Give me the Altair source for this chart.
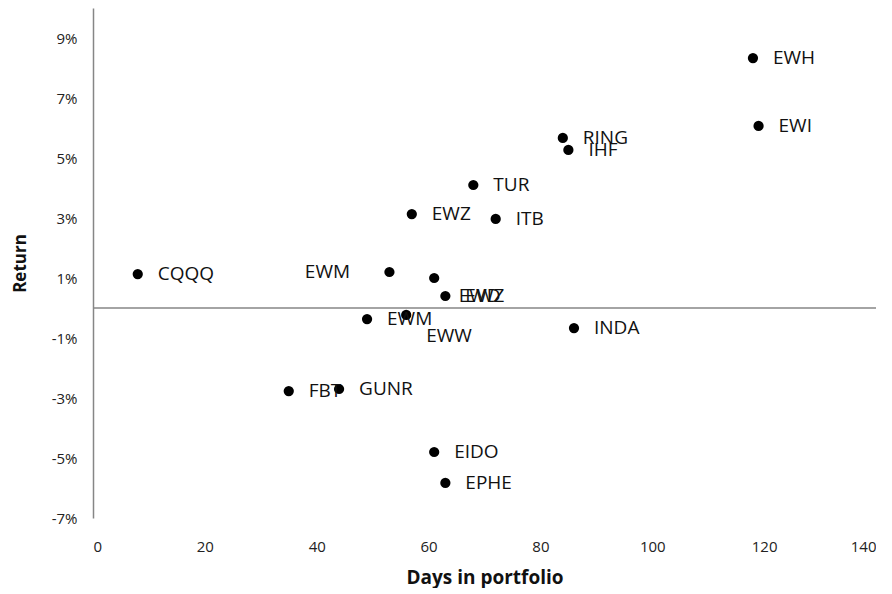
import altair as alt
import pandas as pd

tickers = ["EWH", "EWI", "RING", "IHF", "TUR", "EWZ", "ITB", "CQQQ", "EWM",
           "EWD", "EWZ", "EWM", "EWW", "INDA", "FBT", "GUNR", "EIDO", "EPHE"]
days = [118, 119, 84, 85, 68, 57, 72, 8, 53,
        61, 63, 49, 56, 86, 35, 44, 61, 63]
returns = [0.0833, 0.0607, 0.0567, 0.0527, 0.041, 0.0313, 0.0297, 0.0113, 0.012,
           0.010, 0.004, -0.0037, -0.0023, -0.0067, -0.0277, -0.027, -0.048, -0.0583]
# where each data label sits (data units); most sit next to their own point
label_days = [118, 119, 84, 85, 68, 57, 72, 8, 34.3,
              61.8, 63, 49, 56, 86, 35, 44, 61, 63]
label_returns = [0.0833, 0.0607, 0.0567, 0.0527, 0.041, 0.0313, 0.0297, 0.0113, 0.012,
                 0.004, 0.004, -0.0037, -0.0093, -0.0067, -0.0277, -0.027, -0.048, -0.0583]

x_ticks = [0, 20, 40, 60, 80, 100, 120, 140]
y_ticks = [-0.07, -0.05, -0.03, -0.01, 0.01, 0.03, 0.05, 0.07, 0.09]

df = pd.DataFrame({"ticker": tickers, "days": days, "ret": returns,
                   "ldays": label_days, "lret": label_returns})

FONT = "Open Sans"
AXIS_GREY = "#868686"

xscale = alt.Scale(domain=[0, 140], nice=False, zero=False)
yscale = alt.Scale(domain=[-0.07, 0.10], nice=False, zero=False)

base = alt.Chart(df)

points = base.mark_circle(size=105, color="black", opacity=1).encode(
    x=alt.X("days:Q", scale=xscale,
            axis=alt.Axis(values=x_ticks, domain=False, ticks=False, grid=False,
                          labelPadding=21, labelFontSize=15, labelFont=FONT,
                          labelColor="#222222", title="Days in portfolio",
                          titleFont=FONT, titleFontSize=19, titleFontWeight="bold",
                          titleColor="#111111", titlePadding=14)),
    y=alt.Y("ret:Q", scale=yscale,
            axis=alt.Axis(values=y_ticks, domain=True, domainColor=AXIS_GREY,
                          domainWidth=1.5, ticks=False, grid=False,
                          labelPadding=16, labelFontSize=15, labelFont=FONT,
                          labelColor="#222222",
                          labelExpr="round(datum.value*100) + '%'",
                          title="Return", titleFont=FONT, titleFontSize=17,
                          titleFontWeight="bold", titleColor="#111111",
                          titlePadding=22)),
)

zero_line = alt.Chart(pd.DataFrame({"y": [0.0]})).mark_rule(
    color=AXIS_GREY, strokeWidth=1.5).encode(
    y=alt.Y("y:Q", scale=yscale), x=alt.value(0), x2=alt.value(783))

labels = base.mark_text(align="left", baseline="middle", dx=20, font=FONT,
                        fontSize=19, color="#111111").encode(
    x=alt.X("ldays:Q", scale=xscale),
    y=alt.Y("lret:Q", scale=yscale),
    text="ticker:N",
)

chart = alt.layer(zero_line, points, labels).properties(
    width=783, height=510,
    autosize=alt.AutoSizeParams(type="none"),
    padding={"left": 85, "top": 0, "right": 0, "bottom": 70},
).configure_view(stroke=None)

chart.save("out.html", embed_options={"renderer": "svg", "actions": False})
